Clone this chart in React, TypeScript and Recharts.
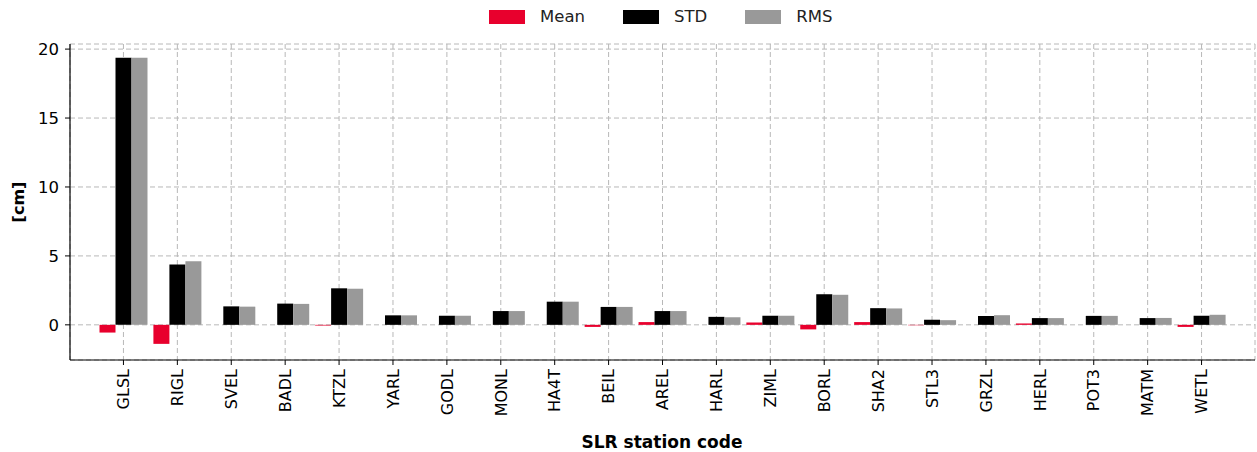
import React from 'react';
import { BarChart, Bar, XAxis, YAxis, CartesianGrid } from 'recharts';

const stations = [
  'GLSL', 'RIGL', 'SVEL', 'BADL', 'KTZL', 'YARL', 'GODL', 'MONL', 'HA4T', 'BEIL', 'AREL',
  'HARL', 'ZIML', 'BORL', 'SHA2', 'STL3', 'GRZL', 'HERL', 'POT3', 'MATM', 'WETL'
];
const meanValues = [
  -0.56, -1.38, 0, 0, -0.05, 0, 0, 0, 0, -0.15, 0.2,
  0, 0.17, -0.33, 0.2, -0.03, 0, 0.1, 0, 0, -0.15
];
const stdValues = [
  19.38, 4.38, 1.34, 1.54, 2.65, 0.69, 0.66, 1.0, 1.68, 1.3, 1.0,
  0.58, 0.66, 2.22, 1.21, 0.37, 0.64, 0.49, 0.65, 0.49, 0.66
];
const rmsValues = [
  19.38, 4.62, 1.32, 1.52, 2.62, 0.69, 0.66, 1.0, 1.68, 1.3, 1.0,
  0.55, 0.66, 2.18, 1.19, 0.34, 0.7, 0.49, 0.65, 0.5, 0.73
];
const yTicks = [0, 5, 10, 15, 20];

const data = stations.map((name, i) => ({
  name,
  mean: meanValues[i],
  std: stdValues[i],
  rms: rmsValues[i]
}));

const FONT = '"DejaVu Sans", sans-serif';
const GRID = '#b8b8b8';

const legendItems = [
  { label: 'Mean', color: '#e8002d' },
  { label: 'STD', color: '#000000' },
  { label: 'RMS', color: '#999999' }
];

function StationTick(props: any) {
  const { x, y, payload } = props;
  return (
    <text
      x={x}
      y={y}
      transform={`rotate(-90, ${x}, ${y})`}
      textAnchor="end"
      dy="0.36em"
      fontSize={16}
      fontFamily={FONT}
      fill="#000"
    >
      {payload.value}
    </text>
  );
}

export default function App() {
  return (
    <div style={{ position: 'absolute', left: 0, top: 0, width: 1257, height: 452, background: '#fff', fontFamily: FONT }}>
      <div
        style={{
          position: 'absolute',
          left: 489,
          top: 7,
          display: 'flex',
          alignItems: 'center',
          fontSize: 16.5,
          color: '#222'
        }}
      >
        {legendItems.map((item) => (
          <div key={item.label} style={{ display: 'flex', alignItems: 'center', marginRight: 38 }}>
            <span style={{ display: 'inline-block', width: 36, height: 14, background: item.color, marginRight: 15 }} />
            <span>{item.label}</span>
          </div>
        ))}
      </div>
      <BarChart
        width={1257}
        height={452}
        data={data}
        margin={{ top: 44, right: 2, left: 0, bottom: 0 }}
        barSize={16}
        barGap={0}
      >
        <CartesianGrid stroke={GRID} strokeDasharray="5 3" />
        <XAxis
          dataKey="name"
          height={92}
          interval={0}
          padding={{ left: 26.5, right: 26.5 }}
          tick={<StationTick />}
          tickSize={5}
          tickMargin={4}
          axisLine={{ stroke: '#000', strokeWidth: 1.2 }}
          tickLine={{ stroke: '#000' }}
          label={{
            content: () => (
              <text x={662} y={448} textAnchor="middle" fontSize={17} fontWeight="bold" fontFamily={FONT} fill="#000">
                SLR station code
              </text>
            )
          }}
        />
        <XAxis
          xAxisId="top"
          dataKey="name"
          orientation="top"
          height={0}
          tick={false}
          tickLine={false}
          axisLine={{ stroke: '#000', strokeWidth: 1.2 }}
        />
        <YAxis
          width={70}
          domain={[-2.55, 20.37]}
          ticks={yTicks}
          allowDataOverflow
          tickSize={5}
          tickMargin={6}
          tick={{ fontSize: 16.5, fill: '#000', fontFamily: FONT }}
          axisLine={{ stroke: '#000', strokeWidth: 1.2 }}
          tickLine={{ stroke: '#000' }}
          label={{
            content: () => (
              <text
                x={18}
                y={202}
                transform="rotate(-90, 18, 202)"
                textAnchor="middle"
                dominantBaseline="central"
                fontSize={16}
                fontWeight="bold"
                fontFamily={FONT}
                fill="#000"
              >
                [cm]
              </text>
            )
          }}
        />
        <YAxis
          yAxisId="right"
          orientation="right"
          width={0}
          domain={[-2.55, 20.37]}
          tick={false}
          tickLine={false}
          axisLine={{ stroke: '#000', strokeWidth: 1.2 }}
        />
        <Bar dataKey="mean" fill="#e8002d" isAnimationActive={false} />
        <Bar dataKey="std" fill="#000000" isAnimationActive={false} />
        <Bar dataKey="rms" fill="#999999" isAnimationActive={false} />
      </BarChart>
    </div>
  );
}
